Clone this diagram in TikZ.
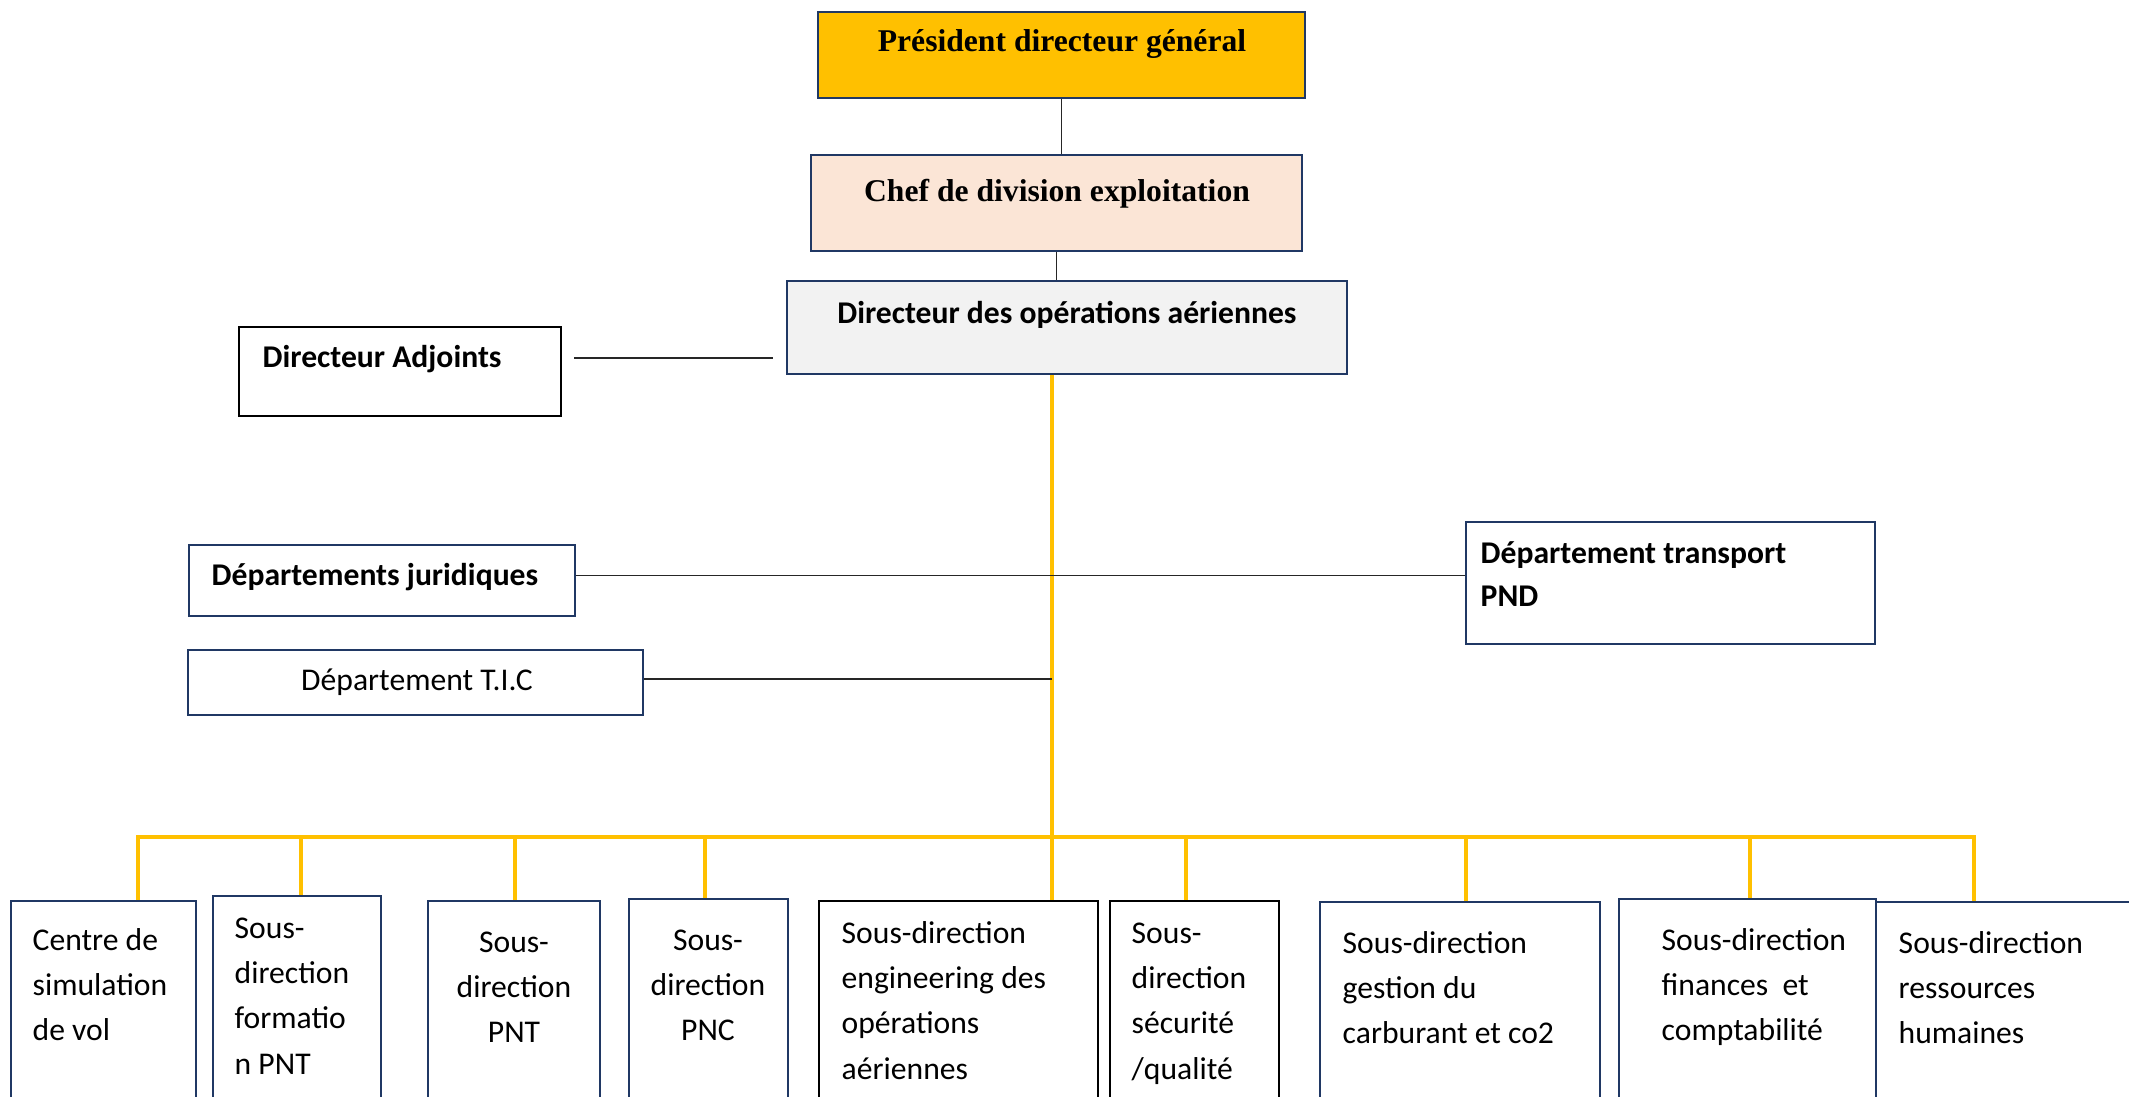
\documentclass[tikz,border=0pt]{standalone}
\usepackage{fontspec}
\setmainfont{Carlito}
\newfontfamily\timesfont{Liberation Serif}
\usetikzlibrary{positioning,fit}
\definecolor{navy}{HTML}{203864}
\definecolor{gold}{HTML}{FFC000}
\definecolor{peach}{HTML}{FBE5D6}
\definecolor{paleg}{HTML}{F2F2F2}
\tikzset{
  box/.style={draw=navy, line width=0.7pt, inner sep=0pt},
  blackbox/.style={box, draw=black},
  yline/.style={gold, line width=1.2pt},
  cline/.style={black!85, line width=0.5pt},
  txt/.style={inner sep=0pt, font=\fontsize{9}{12.9}\selectfont, text width=30mm, align=flush left, anchor=base west},
  ctxt/.style={txt, text width=16mm, align=flush center, anchor=base},
  headsf/.style={inner sep=0pt, font=\bfseries\fontsize{9}{12.2}\selectfont},
  headrm/.style={inner sep=0pt, anchor=base, font=\timesfont\bfseries\fontsize{9}{11}\selectfont},
}

\begin{document}
\begin{tikzpicture}[x=0.1mm,y=-0.1mm]
\useasboundingbox (0,0) rectangle (2129,1097);
\clip (0,0) rectangle (2129,1097);

% direction
\node[box, fill=gold, fit={(818,12) (1305,98)}] (pdg) {};
\node[headrm] (pdgt) at (1062,52) {Président directeur général};
\node[box, fill=peach, fit={(811,155) (1302,251)}] (chef) {};
\node[headrm] (cheft) at (1057,202) {Chef de division exploitation};
\node[box, fill=paleg, fit={(787,281) (1347,374)}] (dir) {};
\node[headsf, anchor=base] (dirt) at (1067,324) {Directeur des opérations aériennes};

% departements
\node[box, draw=black, line width=0.8pt, fit={(239,327) (561,416)}] (adj) {};
\node[headsf, anchor=base west] (adjt) at (262,368) {Directeur Adjoints};
\node[box, fit={(189,545) (575,616)}] (jur) {};
\node[headsf, anchor=base west] (jurt) at (211,586) {Départements juridiques};
\node[box, fit={(188,650) (643,715)}] (tic) {};
\node[inner sep=0pt, anchor=base, font=\fontsize{9}{11}\selectfont] (tict) at (417,691) {Département T.I.C};
\node[box, fit={(1466,522) (1875,644)}] (trans) {};
\node[headsf, text width=40mm, align=flush left, anchor=base west] (transt) at (1480,564) {Département transport\\PND};

% sous-directions
\node[box, fit={(11,901) (196,1110)}] (csv) {};
\node[txt] (csvt) at (32,950) {Centre de\\simulation\\de vol};
\node[box, fit={(213,896) (381,1110)}] (sdfpnt) {};
\node[txt] (sdfpntt) at (234,938) {Sous-\\direction\\formatio\\n PNT};
\node[box, fit={(428,901) (600,1110)}] (sdpnt) {};
\node[ctxt] (sdpntt) at (514,952) {Sous-\\direction\\PNT};
\node[box, fit={(629,899) (788,1110)}] (sdpnc) {};
\node[ctxt] (sdpnct) at (708,950) {Sous-\\direction\\PNC};
\node[blackbox, fit={(819,901) (1098,1110)}] (sdeng) {};
\node[txt] (sdengt) at (841,943) {Sous-direction\\engineering des\\opérations\\aériennes};
\node[blackbox, fit={(1110,901) (1279,1110)}] (sdsec) {};
\node[txt] (sdsect) at (1131,943) {Sous-\\direction\\sécurité\\/qualité};
\node[box, fit={(1320,902) (1600,1110)}] (sdcarb) {};
\node[txt] (sdcarbt) at (1342,953) {Sous-direction\\gestion du\\carburant et co2};
\node[box, fit={(1619,899) (1876,1110)}] (sdfin) {};
\node[txt] (sdfint) at (1661,950) {Sous-direction\\finances\ \ et\\comptabilité};
\node[box, fit={(1876,902) (2145,1110)}] (sdrh) {};
\node[txt] (sdrht) at (1898,953) {Sous-direction\\ressources\\humaines};

% liaisons
\coordinate (trunk) at (1052,837);
\coordinate (busl) at (138,837);
\coordinate (busr) at (1974,837);
\coordinate (adjl) at (574,358);
\coordinate (adjr) at (773,358);
\draw[cline] (pdg.south) -- (pdg.south |- chef.north);
\draw[cline] (chef.south) -- (chef.south |- dir.north);
\draw[cline] (adjl) -- (adjr);
\draw[yline] (dir.south -| trunk) -- (sdeng.north -| trunk);
\draw[cline] ([yshift=0.5mm]jur.east) -- ([yshift=0.5mm]jur.east -| trans.west);
\draw[cline] ([yshift=0.35mm]tic.east) -- ([yshift=0.35mm]tic.east -| trunk);
\draw[yline] (csv.north -| busl) |- (busr) -- (sdrh.north -| busr);
\draw[yline] (sdfpnt.north -| 301,0) -- (301,837);
\draw[yline] (sdpnt.north -| 515,0) -- (515,837);
\draw[yline] (sdpnc.north -| 705,0) -- (705,837);
\draw[yline] (sdsec.north -| 1186,0) -- (1186,837);
\draw[yline] (sdcarb.north -| 1466,0) -- (1466,837);
\draw[yline] (sdfin.north -| 1750,0) -- (1750,837);
\end{tikzpicture}
\end{document}
